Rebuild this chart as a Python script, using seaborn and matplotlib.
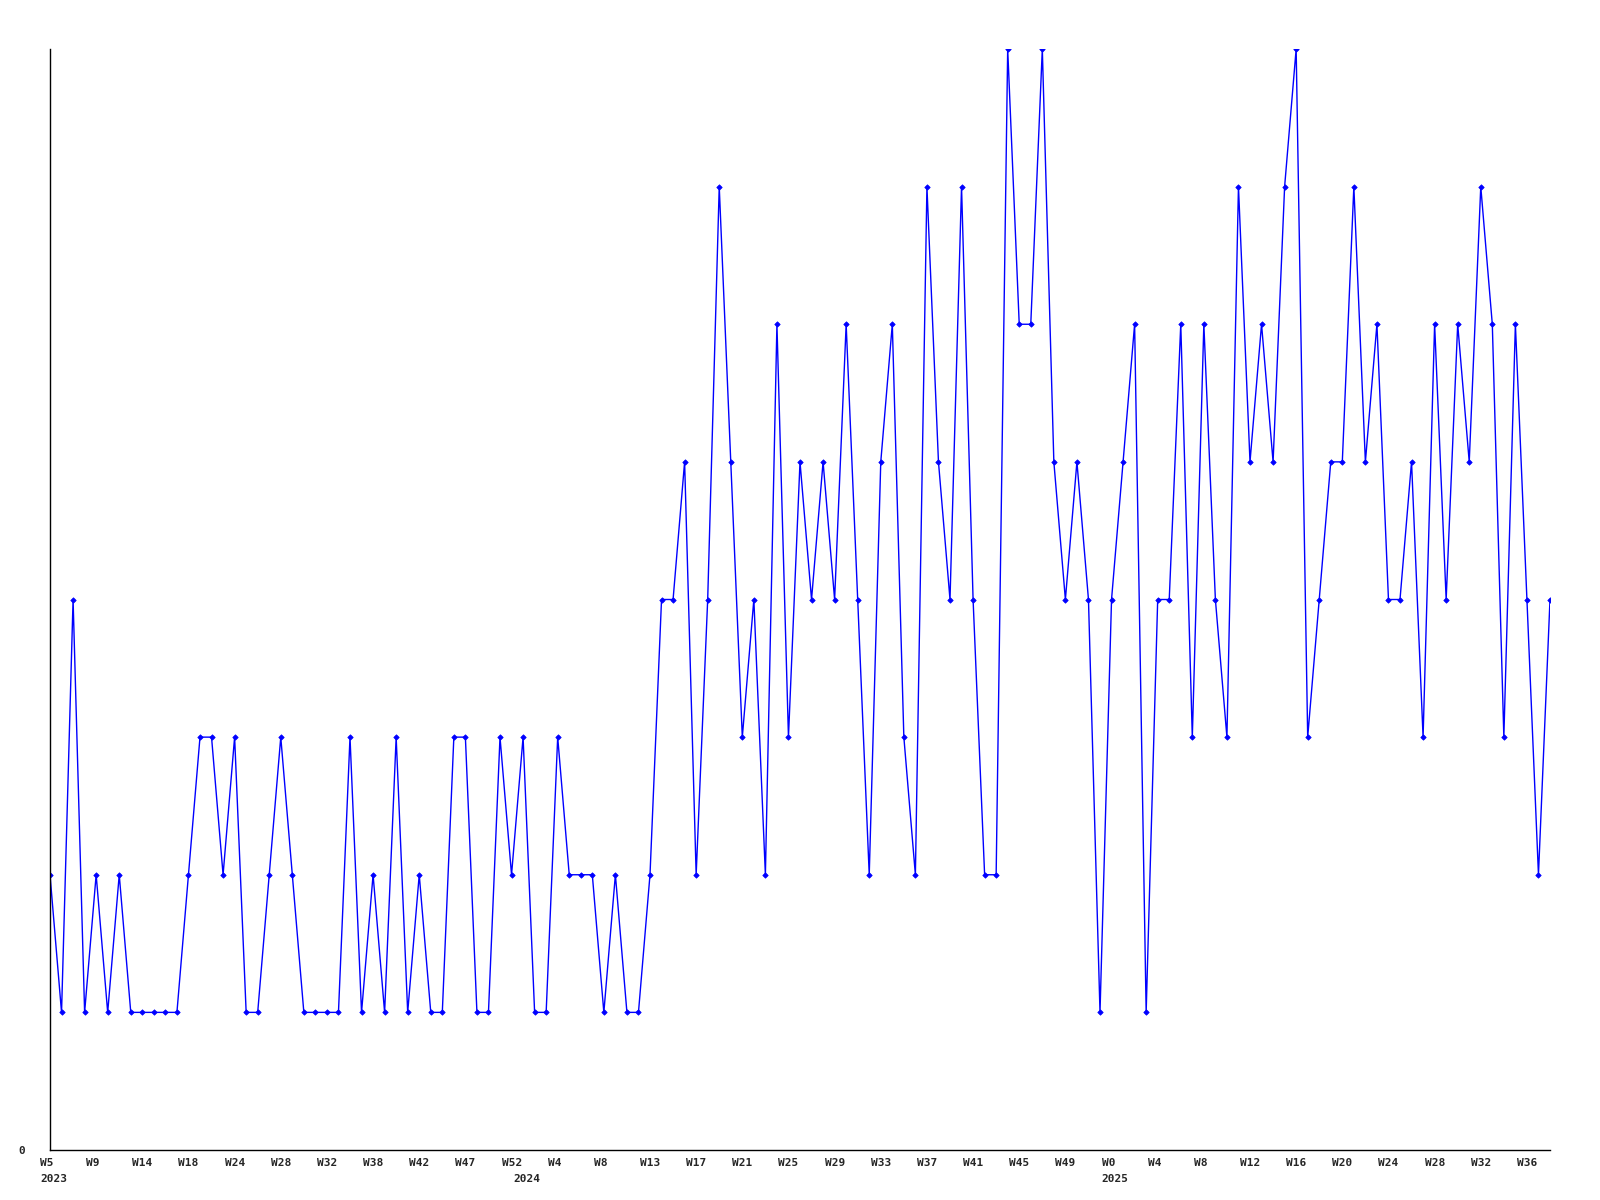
import matplotlib
matplotlib.use('Agg')
import matplotlib.pyplot as plt
from matplotlib.transforms import offset_copy
import seaborn as sns
import pandas as pd

# weekly values, one per point
values = [2, 1, 4, 1, 2, 1, 2, 1, 1, 1, 1, 1, 2, 3, 3, 2, 3, 1, 1, 2,
          3, 2, 1, 1, 1, 1, 3, 1, 2, 1, 3, 1, 2, 1, 1, 3, 3, 1, 1, 3,
          2, 3, 1, 1, 3, 2, 2, 2, 1, 2, 1, 1, 2, 4, 4, 5, 2, 4, 7, 5,
          3, 4, 2, 6, 3, 5, 4, 5, 4, 6, 4, 2, 5, 6, 3, 2, 7, 5, 4, 7,
          4, 2, 2, 8, 6, 6, 8, 5, 4, 5, 4, 1, 4, 5, 6, 1, 4, 4, 6, 3,
          6, 4, 3, 7, 5, 6, 5, 7, 8, 3, 4, 5, 5, 7, 5, 6, 4, 4, 5, 3,
          6, 4, 6, 5, 7, 6, 3, 6, 4, 2, 4]

# x labels shown on every 4th point
week_labels = ['W5', 'W9', 'W14', 'W18', 'W24', 'W28', 'W32', 'W38', 'W42',
               'W47', 'W52', 'W4', 'W8', 'W13', 'W17', 'W21', 'W25', 'W29',
               'W33', 'W37', 'W41', 'W45', 'W49', 'W0', 'W4', 'W8', 'W12',
               'W16', 'W20', 'W24', 'W28', 'W32', 'W36']
label_step = 4

# first point of each year
years = ['2023', '2024', '2025']
year_starts = [0, 41, 92]

df = pd.DataFrame({'idx': range(len(values)), 'value': values})

sns.set_style('white')
plt.rcParams['font.family'] = ['DejaVu Sans Mono', 'DejaVu Sans']

fig = plt.figure(figsize=(16, 12), dpi=100)
ax = fig.add_axes([50 / 1600, 50 / 1200, 1500 / 1600, 1101 / 1200])

sns.lineplot(data=df, x='idx', y='value', ax=ax, color='#0000ff',
             linewidth=1, marker='D', markersize=2.8, markeredgewidth=0.5,
             markeredgecolor='#0000ff')

ax.set_xlim(0, len(values) - 1)
ax.set_ylim(0, 8)
ax.set_xlabel('')
ax.set_ylabel('')

# axis lines
for side in ['top', 'right']:
    ax.spines[side].set_visible(False)
for side in ['left', 'bottom']:
    ax.spines[side].set_color('black')
    ax.spines[side].set_linewidth(1)

ax.set_xticks([])
ax.set_yticks([0])
ax.set_yticklabels(['0'], fontsize=8, fontweight='bold')
ax.tick_params(axis='y', length=0, pad=18)

# week labels and year labels under the axis
trans = ax.get_xaxis_transform()
wk_trans = offset_copy(trans, fig=fig, x=-10, y=-13, units='dots')
yr_trans = offset_copy(trans, fig=fig, x=-10, y=-29, units='dots')
for k, lab in enumerate(week_labels):
    ax.text(k * label_step, 0, lab, transform=wk_trans, ha='left',
            va='center', fontsize=8, fontweight='bold')
for pos, yr in zip(year_starts, years):
    ax.text(pos, 0, yr, transform=yr_trans, ha='left', va='center',
            fontsize=8, fontweight='bold')

fig.savefig('out.png', dpi=100, facecolor='white')
